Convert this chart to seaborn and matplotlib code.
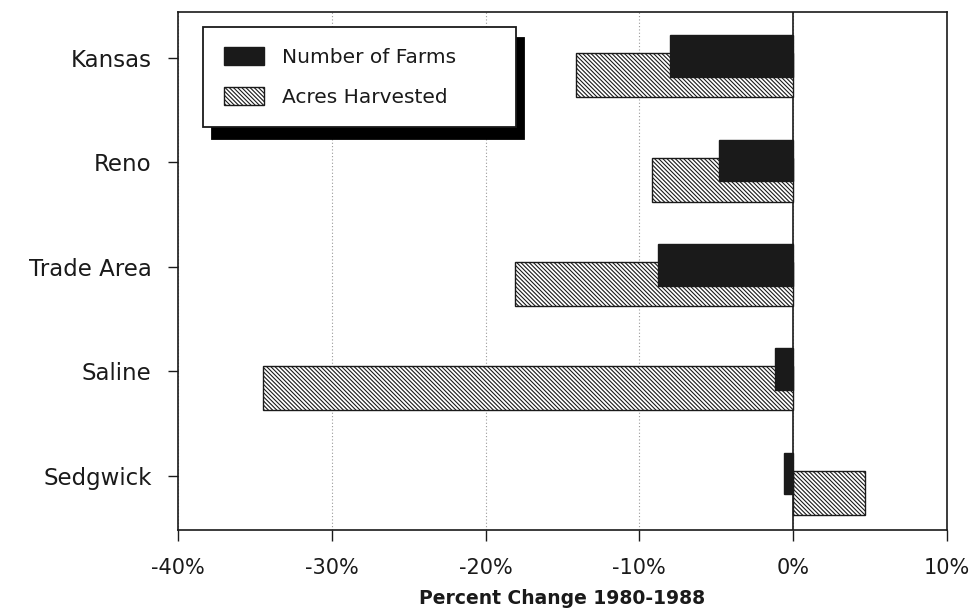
import matplotlib
matplotlib.use("Agg")
import matplotlib.pyplot as plt
import matplotlib.patches as mpatches
import pandas as pd
import seaborn as sns

# Percent change 1980-1988 by area
regions = ["Kansas", "Reno", "Trade Area", "Saline", "Sedgwick"]
farms_change = [-8.0, -4.8, -8.8, -1.2, -0.6]
acres_change = [-14.1, -9.2, -18.1, -34.5, 4.7]
series_names = ["Number of Farms", "Acres Harvested"]
x_ticks = [-40, -30, -20, -10, 0, 10]
x_tick_labels = ["-40%", "-30%", "-20%", "-10%", "0%", "10%"]
x_label = "Percent Change 1980-1988"

sns.set_theme(style="white")
plt.rcParams["font.family"] = ["DejaVu Sans"]
plt.rcParams["hatch.linewidth"] = 0.8

ink = "#1a1a1a"
hatch = "\\" * 8

df = pd.DataFrame({"region": regions, "farms": farms_change, "acres": acres_change})

fig = plt.figure(figsize=(9.73, 6.09), dpi=100)
ax = fig.add_axes([0.183, 0.130, 0.790, 0.850])

# hatched acres bars, set slightly below the category centre
sns.barplot(data=df, y="region", x="acres", orient="h", width=0.42,
            color="white", saturation=1, edgecolor=ink, linewidth=1.0,
            hatch=hatch, ax=ax, zorder=3)
n_acres = len(ax.patches)
for p in ax.patches:
    p.set_y(p.get_y() + 0.165)

# solid farm bars drawn on top, overlapping the acres bars
sns.barplot(data=df, y="region", x="farms", orient="h", width=0.40,
            color=ink, saturation=1, edgecolor=ink, linewidth=1.0,
            ax=ax, zorder=4)
for p in ax.patches[n_acres:]:
    p.set_y(p.get_y() - 0.02)

ax.set_xlim(-40, 10)
ax.set_ylim(4.52, -0.44)
ax.set_xticks(x_ticks, labels=x_tick_labels)
ax.set_ylabel("")
ax.set_xlabel(x_label, fontsize=13.5, fontweight="bold", color=ink, labelpad=8)

ax.set_axisbelow(True)
ax.grid(axis="x", linestyle=(0, (1, 2)), color="#9a9a9a", linewidth=0.8)
ax.grid(axis="y", visible=False)
ax.axvline(0, color=ink, linewidth=1.2, zorder=2)

for s in ax.spines.values():
    s.set_color(ink)
    s.set_linewidth(1.2)

ax.tick_params(axis="x", bottom=True, direction="out", length=8, width=1,
               color=ink, pad=12, labelsize=15, labelcolor=ink)
ax.tick_params(axis="y", left=True, direction="out", length=7, width=1,
               color=ink, pad=12, labelsize=16.5, labelcolor=ink)

handles = [
    mpatches.Patch(facecolor=ink, edgecolor=ink, label=series_names[0]),
    mpatches.Patch(facecolor="white", edgecolor=ink, hatch=hatch,
                   label=series_names[1]),
]
leg = ax.legend(handles=handles, loc="upper left", mode="expand",
                bbox_to_anchor=(0.033, 0.0, 0.406, 0.971), borderaxespad=0,
                fontsize=14.5, frameon=True, fancybox=False,
                shadow={"color": "black", "alpha": 1, "ox": 6, "oy": -8},
                handlelength=2.0, handleheight=1.0, handletextpad=0.9,
                labelspacing=1.0, borderpad=1.0, edgecolor=ink,
                framealpha=1, labelcolor=ink)
leg.get_frame().set_linewidth(1.3)

fig.savefig("out.png", dpi=100)
